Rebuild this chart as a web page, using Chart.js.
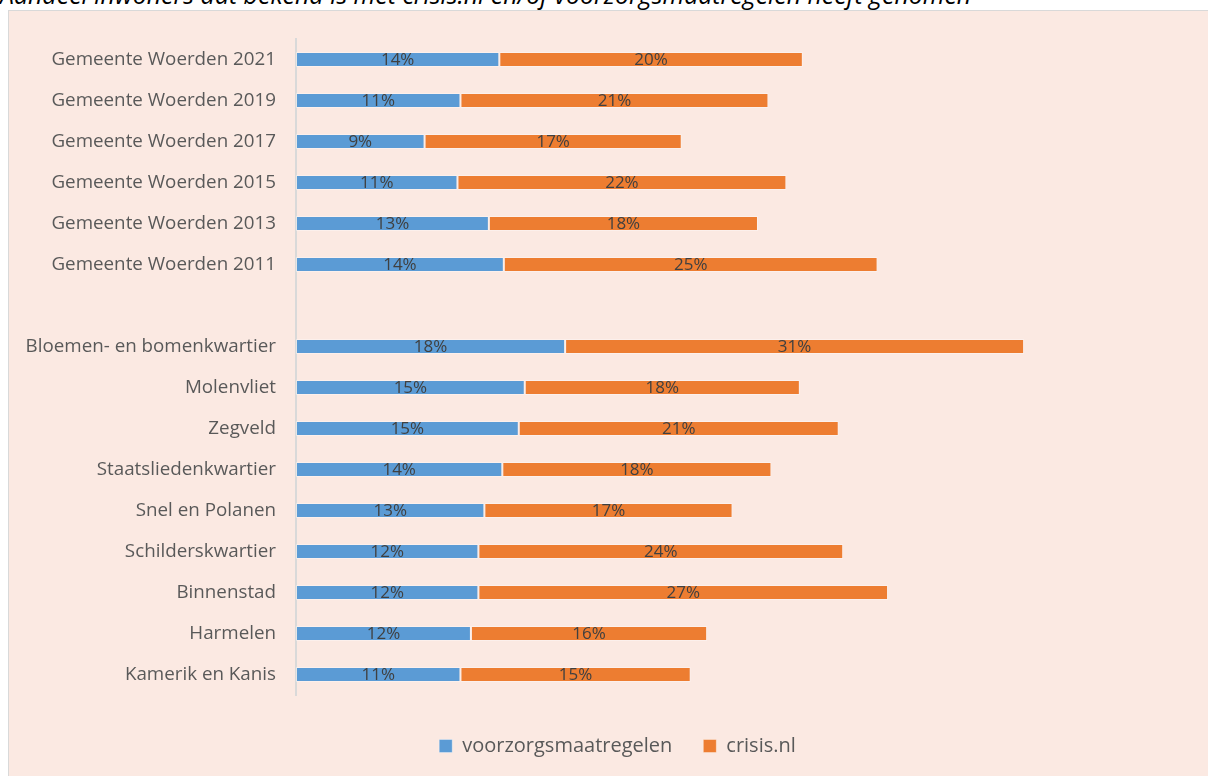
<!DOCTYPE html>
<html>
<head>
<meta charset="utf-8">
<script src="https://cdn.jsdelivr.net/npm/chart.js@4/dist/chart.umd.min.js"></script>
<style>
  html, body { margin: 0; padding: 0; background: #fff; overflow: hidden; }
  body { width: 1208px; height: 776px; position: relative; }
  #title {
    position: absolute; left: 0; top: -18px; white-space: nowrap;
    font: italic 24.9px "Open Sans", sans-serif; line-height: 25px; color: #000;
  }
  #box {
    position: absolute; left: 8px; top: 10px; width: 1200px; height: 766px;
    border-left: 1px solid #d9d9d9; border-top: 1px solid #d9d9d9;
    background: #fbe9e2;
  }
  #wrap { position: absolute; left: 0; top: 0; width: 1199px; height: 765px; }
</style>
</head>
<body>
<div id="title">Aandeel inwoners dat bekend is met crisis.nl en/of voorzorgsmaatregelen heeft genomen</div>
<div id="box"><div id="wrap"><canvas id="myChart"></canvas></div></div>
<script>
// categories, top to bottom ("" is the empty gap row)
const labels = [
  "Gemeente Woerden 2021", "Gemeente Woerden 2019", "Gemeente Woerden 2017",
  "Gemeente Woerden 2015", "Gemeente Woerden 2013", "Gemeente Woerden 2011",
  "",
  "Bloemen- en bomenkwartier", "Molenvliet", "Zegveld", "Staatsliedenkwartier",
  "Snel en Polanen", "Schilderskwartier", "Binnenstad", "Harmelen", "Kamerik en Kanis"
];
// percentages (shown rounded)
const voorzorg = [13.6, 11.0, 8.6, 10.8, 12.9, 13.9, null, 18.0, 15.3, 14.9, 13.8, 12.6, 12.2, 12.2, 11.7, 11.0];
const crisis   = [20.3, 20.6, 17.2, 22.0, 18.0, 25.0, null, 30.7, 18.4, 21.4, 18.0, 16.6, 24.4, 27.4, 15.8, 15.4];

const valueLabels = {
  id: "valueLabels",
  afterDatasetsDraw(chart) {
    const ctx = chart.ctx;
    ctx.save();
    ctx.font = '17px "Open Sans", sans-serif';
    ctx.fillStyle = "#404040";
    ctx.textAlign = "center";
    ctx.textBaseline = "middle";
    chart.data.datasets.forEach((ds, i) => {
      const meta = chart.getDatasetMeta(i);
      meta.data.forEach((bar, j) => {
        const v = ds.data[j];
        if (v == null) return;
        ctx.fillText(Math.round(v) + "%", (bar.x + bar.base) / 2, bar.y + 1);
      });
    });
    ctx.restore();
  }
};

new Chart(document.getElementById("myChart"), {
  type: "bar",
  data: {
    labels: labels,
    datasets: [
      { label: "voorzorgsmaatregelen", data: voorzorg, backgroundColor: "#5b9bd5",
        borderColor: "rgba(255,255,255,0.35)", borderWidth: 1, borderSkipped: false },
      { label: "crisis.nl", data: crisis, backgroundColor: "#ed7d31",
        borderColor: "rgba(255,255,255,0.35)", borderWidth: 1, borderSkipped: false }
    ]
  },
  options: {
    indexAxis: "y",
    responsive: true,
    maintainAspectRatio: false,
    animation: false,
    datasets: { bar: { categoryPercentage: 1, barPercentage: 0.37 } },
    layout: { padding: { left: 18, right: 0, top: 28, bottom: 10 } },
    scales: {
      x: {
        stacked: true, min: 0, max: 61,
        ticks: { display: false },
        grid: { display: false, drawTicks: false },
        border: { display: false },
        afterFit(scale) { scale.height = 10; }
      },
      y: {
        stacked: true,
        grid: { display: false, drawTicks: false },
        border: { display: true, color: "#d9d9d9", width: 2 },
        ticks: { color: "#595959", padding: 20, font: { family: "Open Sans", size: 18.8 } },
        afterFit(scale) {
          scale.width = 269;
          scale.paddingTop = 0;
          scale.paddingBottom = 0;
        }
      }
    },
    plugins: {
      legend: {
        position: "bottom",
        labels: { color: "#595959", boxWidth: 13, boxHeight: 13, padding: 31,
                  font: { family: "Open Sans", size: 20 } }
      },
      tooltip: { enabled: false }
    }
  },
  plugins: [valueLabels]
});
</script>
</body>
</html>
